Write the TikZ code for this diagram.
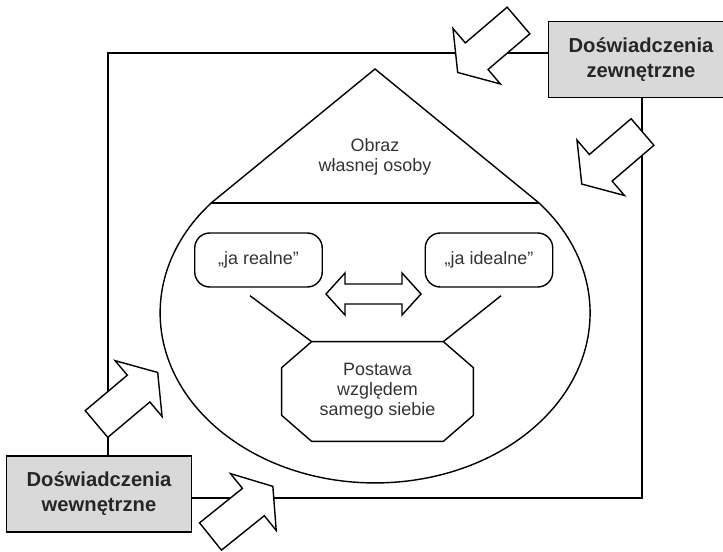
\documentclass[tikz,border=0pt]{standalone}
\usepackage{fontspec}
\setmainfont{Liberation Sans}

\begin{document}
\begin{tikzpicture}
    % Define styles
    \tikzset{
        frame/.style={line width=1pt},
        outline/.style={line width=0.8pt},
        source/.style={draw, line width=0.8pt, fill=gray!30, align=center,
            font=\fontsize{11.5}{14.2}\selectfont\bfseries, text=black!85,
            minimum width=3.7cm, minimum height=1.52cm},
        selfbox/.style={draw, line width=0.8pt, rounded corners=0.3cm,
            minimum width=2.55cm, minimum height=1.08cm,
            font=\fontsize{10.2}{11.4}\selectfont, text=black!80},
        plaintext/.style={align=center, font=\fontsize{10.2}{11.4}\selectfont, text=black!80},
        blockarrow/.pic={
            \draw[outline, fill=white] (0,-0.35) -- (1.1,-0.35) -- (1.1,-0.73) -- (1.6,0)
                -- (1.1,0.73) -- (1.1,0.35) -- (0,0.35) -- cycle;
        }
    }
    \useasboundingbox (0,0) rectangle (14.46,11.02);

    % Sources of experience
    \node[source] (zew) at (12.82,9.83) {Doświadczenia\\zewnętrzne};
    \node[source] (wew) at (1.98,1.14) {Doświadczenia\\wewnętrzne};

    % Draw frame
    \coordinate (tl) at (2.16,9.96);
    \coordinate (br) at (12.84,1.06);
    \draw[frame] (wew.north -| tl) -- (tl) -- (zew.west |- tl);
    \draw[frame] (zew.south -| br) -- (br) -- (wew.east |- br);

    % Draw drop shape
    \coordinate (apex) at (7.5,9.64);
    \coordinate (bl) at (4.223,6.96);
    \coordinate (bre) at (10.777,6.96);
    \draw[outline] (apex) -- (bl) arc[start angle=139.7, end angle=400.3, x radius=4.3, y radius=3.4] -- cycle;
    \draw[outline] (bl) -- (bre);
    \node[plaintext] (obraz) at (7.5,7.88) {Obraz\\własnej osoby};

    % Self images
    \node[selfbox] (realne) at (5.17,5.82) {„ja realne”};
    \node[selfbox] (idealne) at (9.78,5.82) {„ja idealne”};

    % Double arrow between them
    \draw[outline, fill=white, shift={(7.47,5.14)}] (-0.95,0) -- (-0.57,0.42) -- (-0.57,0.2)
        -- (0.57,0.2) -- (0.57,0.42) -- (0.95,0) -- (0.57,-0.42) -- (0.57,-0.2)
        -- (-0.57,-0.2) -- (-0.57,-0.42) -- cycle;

    % Attitude octagon
    \node[plaintext, minimum width=3.82cm, minimum height=1.98cm] (postawa) at (7.55,3.19)
        {Postawa\\względem\\samego siebie};
    \draw[outline] ([xshift=0.6cm]postawa.north west) -- ([xshift=-0.6cm]postawa.north east)
        -- ([yshift=-0.52cm]postawa.north east) -- ([yshift=0.52cm]postawa.south east)
        -- ([xshift=-0.6cm]postawa.south east) -- ([xshift=0.6cm]postawa.south west)
        -- ([yshift=0.52cm]postawa.south west) -- ([yshift=-0.52cm]postawa.north west) -- cycle;

    % Connect self images to attitude
    \draw[outline] ([xshift=-0.17cm,yshift=-0.16cm]realne.south) -- ([xshift=0.6cm]postawa.north west);
    \draw[outline] ([xshift=0.24cm,yshift=-0.16cm]idealne.south) -- ([xshift=-0.6cm]postawa.north east);

    % Block arrows of experience
    \foreach \x/\y/\a in {10.37/10.61/220.5, 12.85/8.38/220.6, 1.93/2.54/40.1, 4.21/0.29/38.8} {
        \pic[rotate=\a] at (\x,\y) {blockarrow};
    }
\end{tikzpicture}
\end{document}
